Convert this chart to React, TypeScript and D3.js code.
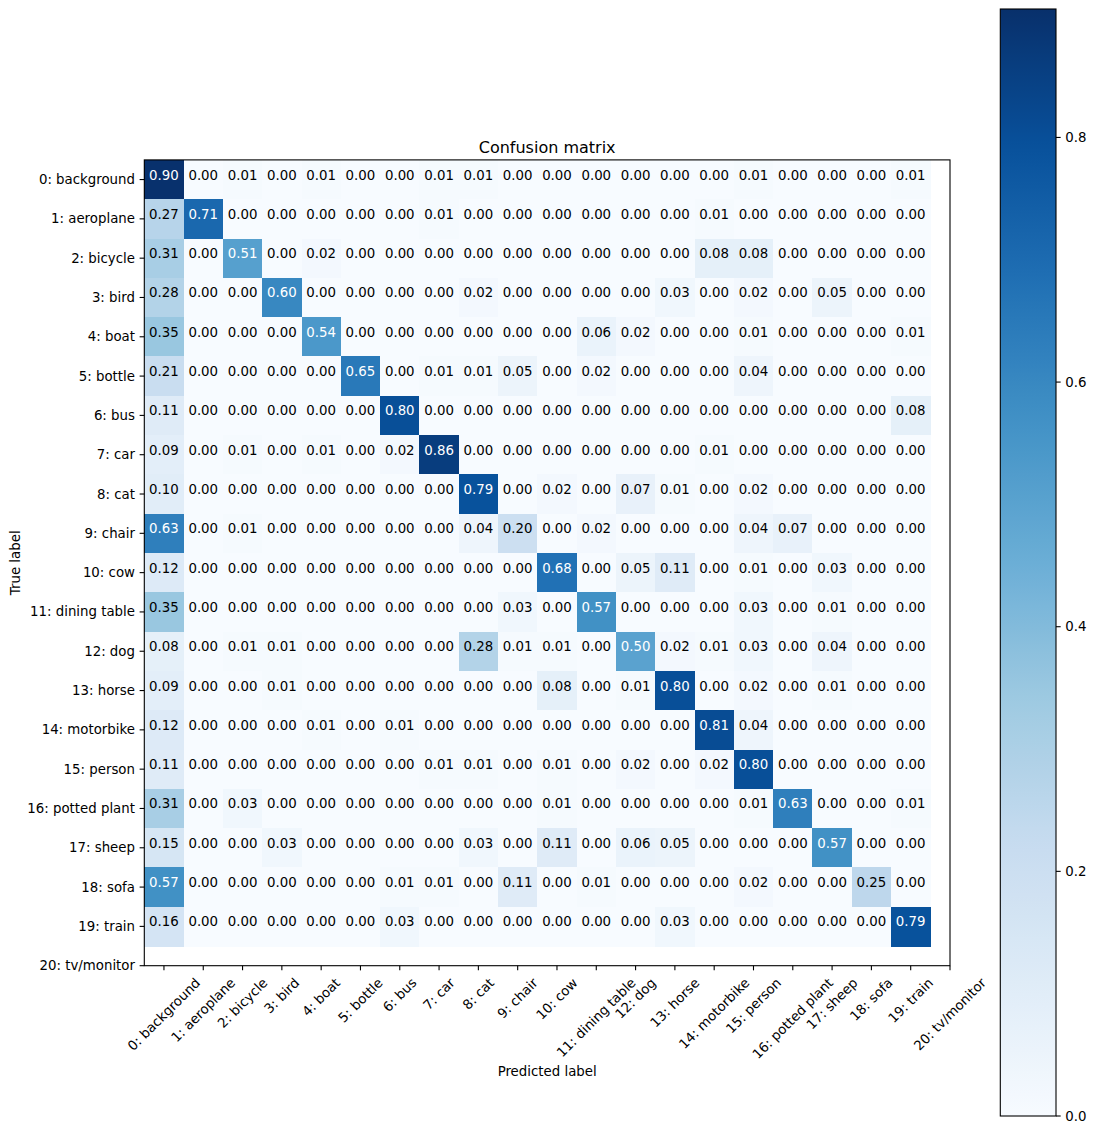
import React, { useEffect, useRef } from "react";
import * as d3 from "d3";

const classes = [
  "0: background", "1: aeroplane", "2: bicycle", "3: bird", "4: boat", "5: bottle",
  "6: bus", "7: car", "8: cat", "9: chair", "10: cow", "11: dining table", "12: dog",
  "13: horse", "14: motorbike", "15: person", "16: potted plant", "17: sheep",
  "18: sofa", "19: train", "20: tv/monitor",
];

const row0 = [0.90, 0.00, 0.01, 0.00, 0.01, 0.00, 0.00, 0.01, 0.01, 0.00, 0.00, 0.00, 0.00, 0.00, 0.00, 0.01, 0.00, 0.00, 0.00, 0.01];
const row1 = [0.27, 0.71, 0.00, 0.00, 0.00, 0.00, 0.00, 0.01, 0.00, 0.00, 0.00, 0.00, 0.00, 0.00, 0.01, 0.00, 0.00, 0.00, 0.00, 0.00];
const row2 = [0.31, 0.00, 0.51, 0.00, 0.02, 0.00, 0.00, 0.00, 0.00, 0.00, 0.00, 0.00, 0.00, 0.00, 0.08, 0.08, 0.00, 0.00, 0.00, 0.00];
const row3 = [0.28, 0.00, 0.00, 0.60, 0.00, 0.00, 0.00, 0.00, 0.02, 0.00, 0.00, 0.00, 0.00, 0.03, 0.00, 0.02, 0.00, 0.05, 0.00, 0.00];
const row4 = [0.35, 0.00, 0.00, 0.00, 0.54, 0.00, 0.00, 0.00, 0.00, 0.00, 0.00, 0.06, 0.02, 0.00, 0.00, 0.01, 0.00, 0.00, 0.00, 0.01];
const row5 = [0.21, 0.00, 0.00, 0.00, 0.00, 0.65, 0.00, 0.01, 0.01, 0.05, 0.00, 0.02, 0.00, 0.00, 0.00, 0.04, 0.00, 0.00, 0.00, 0.00];
const row6 = [0.11, 0.00, 0.00, 0.00, 0.00, 0.00, 0.80, 0.00, 0.00, 0.00, 0.00, 0.00, 0.00, 0.00, 0.00, 0.00, 0.00, 0.00, 0.00, 0.08];
const row7 = [0.09, 0.00, 0.01, 0.00, 0.01, 0.00, 0.02, 0.86, 0.00, 0.00, 0.00, 0.00, 0.00, 0.00, 0.01, 0.00, 0.00, 0.00, 0.00, 0.00];
const row8 = [0.10, 0.00, 0.00, 0.00, 0.00, 0.00, 0.00, 0.00, 0.79, 0.00, 0.02, 0.00, 0.07, 0.01, 0.00, 0.02, 0.00, 0.00, 0.00, 0.00];
const row9 = [0.63, 0.00, 0.01, 0.00, 0.00, 0.00, 0.00, 0.00, 0.04, 0.20, 0.00, 0.02, 0.00, 0.00, 0.00, 0.04, 0.07, 0.00, 0.00, 0.00];
const row10 = [0.12, 0.00, 0.00, 0.00, 0.00, 0.00, 0.00, 0.00, 0.00, 0.00, 0.68, 0.00, 0.05, 0.11, 0.00, 0.01, 0.00, 0.03, 0.00, 0.00];
const row11 = [0.35, 0.00, 0.00, 0.00, 0.00, 0.00, 0.00, 0.00, 0.00, 0.03, 0.00, 0.57, 0.00, 0.00, 0.00, 0.03, 0.00, 0.01, 0.00, 0.00];
const row12 = [0.08, 0.00, 0.01, 0.01, 0.00, 0.00, 0.00, 0.00, 0.28, 0.01, 0.01, 0.00, 0.50, 0.02, 0.01, 0.03, 0.00, 0.04, 0.00, 0.00];
const row13 = [0.09, 0.00, 0.00, 0.01, 0.00, 0.00, 0.00, 0.00, 0.00, 0.00, 0.08, 0.00, 0.01, 0.80, 0.00, 0.02, 0.00, 0.01, 0.00, 0.00];
const row14 = [0.12, 0.00, 0.00, 0.00, 0.01, 0.00, 0.01, 0.00, 0.00, 0.00, 0.00, 0.00, 0.00, 0.00, 0.81, 0.04, 0.00, 0.00, 0.00, 0.00];
const row15 = [0.11, 0.00, 0.00, 0.00, 0.00, 0.00, 0.00, 0.01, 0.01, 0.00, 0.01, 0.00, 0.02, 0.00, 0.02, 0.80, 0.00, 0.00, 0.00, 0.00];
const row16 = [0.31, 0.00, 0.03, 0.00, 0.00, 0.00, 0.00, 0.00, 0.00, 0.00, 0.01, 0.00, 0.00, 0.00, 0.00, 0.01, 0.63, 0.00, 0.00, 0.01];
const row17 = [0.15, 0.00, 0.00, 0.03, 0.00, 0.00, 0.00, 0.00, 0.03, 0.00, 0.11, 0.00, 0.06, 0.05, 0.00, 0.00, 0.00, 0.57, 0.00, 0.00];
const row18 = [0.57, 0.00, 0.00, 0.00, 0.00, 0.00, 0.01, 0.01, 0.00, 0.11, 0.00, 0.01, 0.00, 0.00, 0.00, 0.02, 0.00, 0.00, 0.25, 0.00];
const row19 = [0.16, 0.00, 0.00, 0.00, 0.00, 0.00, 0.03, 0.00, 0.00, 0.00, 0.00, 0.00, 0.00, 0.03, 0.00, 0.00, 0.00, 0.00, 0.00, 0.79];

const matrix = [row0, row1, row2, row3, row4, row5, row6, row7, row8, row9,
  row10, row11, row12, row13, row14, row15, row16, row17, row18, row19];

const colorbarTicks = [0.0, 0.2, 0.4, 0.6, 0.8];
const vmax = 0.905;

const bluesStops = ["#f7fbff", "#deebf7", "#c6dbef", "#9ecae1", "#6baed6", "#4292c6", "#2171b5", "#08519c", "#08306b"];

const W = 1096;
const H = 1134;
const FONT = "'DejaVu Sans', sans-serif";
const FS = 13.33;

export default function App() {
  const ref = useRef<SVGSVGElement | null>(null);

  useEffect(() => {
    document.body.style.margin = "0";
    const svg = d3.select(ref.current);
    svg.selectAll("*").remove();

    const left = 144.3, right = 950, top = 159.9, bottom = 965.7;
    const x = d3.scaleLinear().domain([-0.5, 20]).range([left, right]);
    const y = d3.scaleLinear().domain([-0.5, 20]).range([top, bottom]);

    const blues = d3.scaleLinear<string>()
      .domain(bluesStops.map((_, i) => i / (bluesStops.length - 1)))
      .range(bluesStops)
      .interpolate(d3.interpolateRgb)
      .clamp(true);
    const color = (v: number) => blues(v / vmax);

    const cells: { r: number; c: number; v: number }[] = [];
    matrix.forEach((row, r) => row.forEach((v, c) => cells.push({ r, c, v })));

    const g = svg.append("g");
    g.selectAll("rect.cell")
      .data(cells)
      .enter()
      .append("rect")
      .attr("class", "cell")
      .attr("x", (d) => x(d.c - 0.5))
      .attr("y", (d) => y(d.r - 0.5))
      .attr("width", x(1) - x(0) + 0.5)
      .attr("height", y(1) - y(0) + 0.5)
      .attr("fill", (d) => color(d.v))
      .attr("shape-rendering", "crispEdges");

    g.selectAll("text.val")
      .data(cells)
      .enter()
      .append("text")
      .attr("class", "val")
      .attr("x", (d) => x(d.c))
      .attr("y", (d) => y(d.r))
      .attr("text-anchor", "middle")
      .attr("font-family", FONT)
      .attr("font-size", FS)
      .attr("fill", (d) => (d.v > vmax / 2 ? "white" : "black"))
      .text((d) => d.v.toFixed(2));

    // frame
    svg.append("rect")
      .attr("x", left).attr("y", top)
      .attr("width", right - left).attr("height", bottom - top)
      .attr("fill", "none").attr("stroke", "black").attr("stroke-width", 1.1);

    const tickLen = 4.67;
    const pad = 4.67;
    const idx = d3.range(classes.length);

    // y ticks
    svg.selectAll("line.yt").data(idx).enter().append("line")
      .attr("x1", left).attr("x2", left - tickLen)
      .attr("y1", (i) => y(i)).attr("y2", (i) => y(i))
      .attr("stroke", "black").attr("stroke-width", 1.1);
    svg.selectAll("text.yl").data(idx).enter().append("text")
      .attr("x", left - tickLen - pad)
      .attr("y", (i) => y(i))
      .attr("text-anchor", "end")
      .attr("dominant-baseline", "central")
      .attr("font-family", FONT).attr("font-size", FS)
      .text((i) => classes[i]);

    // x ticks
    svg.selectAll("line.xt").data(idx).enter().append("line")
      .attr("x1", (i) => x(i)).attr("x2", (i) => x(i))
      .attr("y1", bottom).attr("y2", bottom + tickLen)
      .attr("stroke", "black").attr("stroke-width", 1.1);
    const y0 = bottom + tickLen + pad;
    const th = 15.5;
    svg.selectAll("text.xl").data(idx).enter().append("text")
      .attr("font-family", FONT).attr("font-size", FS)
      .attr("text-anchor", "middle")
      .attr("dominant-baseline", "central")
      .text((i) => classes[i])
      .each(function (i) {
        const el = this as SVGTextElement;
        const w = el.getComputedTextLength();
        const cy = y0 + (w + th) / (2 * Math.SQRT2);
        const cx = x(i);
        d3.select(el).attr("transform", `translate(${cx},${cy}) rotate(-45)`);
      });

    // labels
    svg.append("text")
      .attr("x", (left + right) / 2).attr("y", 152.7)
      .attr("text-anchor", "middle")
      .attr("font-family", FONT).attr("font-size", 16)
      .text("Confusion matrix");
    svg.append("text")
      .attr("x", (left + right) / 2).attr("y", 1076)
      .attr("text-anchor", "middle")
      .attr("font-family", FONT).attr("font-size", FS)
      .text("Predicted label");
    svg.append("text")
      .attr("transform", `translate(19.5,${(top + bottom) / 2}) rotate(-90)`)
      .attr("text-anchor", "middle")
      .attr("font-family", FONT).attr("font-size", FS)
      .text("True label");

    // colorbar
    const cbL = 1000.3, cbR = 1056, cbT = 9, cbB = 1116;
    const cy = d3.scaleLinear().domain([0, vmax]).range([cbB, cbT]);
    const defs = svg.append("defs");
    const grad = defs.append("linearGradient")
      .attr("id", "cbgrad").attr("x1", 0).attr("y1", 1).attr("x2", 0).attr("y2", 0);
    d3.range(0, 1.0001, 0.02).forEach((t) => {
      grad.append("stop").attr("offset", t).attr("stop-color", blues(t));
    });
    svg.append("rect")
      .attr("x", cbL).attr("y", cbT)
      .attr("width", cbR - cbL).attr("height", cbB - cbT)
      .attr("fill", "url(#cbgrad)")
      .attr("stroke", "black").attr("stroke-width", 1.1);
    svg.selectAll("line.ct").data(colorbarTicks).enter().append("line")
      .attr("x1", cbR).attr("x2", cbR + tickLen)
      .attr("y1", (v) => cy(v)).attr("y2", (v) => cy(v))
      .attr("stroke", "black").attr("stroke-width", 1.1);
    svg.selectAll("text.cl").data(colorbarTicks).enter().append("text")
      .attr("x", cbR + tickLen + pad)
      .attr("y", (v) => cy(v))
      .attr("dominant-baseline", "central")
      .attr("font-family", FONT).attr("font-size", FS)
      .text((v) => v.toFixed(1));
  }, []);

  return <svg ref={ref} width={W} height={H} style={{ display: "block", background: "white" }} />;
}
